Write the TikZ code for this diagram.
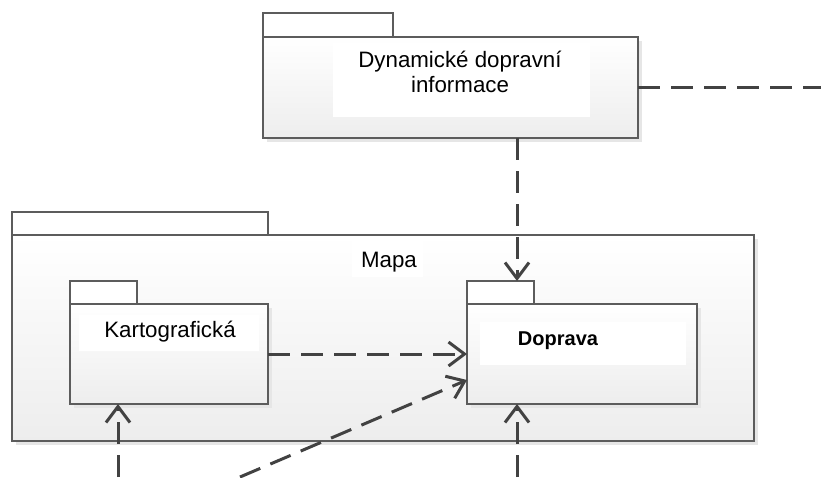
\documentclass[tikz,border=0pt]{standalone}
\usepackage{fontspec}
\setmainfont{Liberation Sans}
\usetikzlibrary{arrows.meta,calc}
\definecolor{linec}{HTML}{424242}
\definecolor{edgec}{HTML}{5C5C5C}
\definecolor{shadowc}{HTML}{E6E6E6}
\tikzset{
  pkgbody/.style={draw=edgec, line width=1.2pt, top color=white, bottom color=black!7,
    anchor=north west, inner sep=0pt, outer sep=0pt},
  pkgtab/.style={draw=edgec, line width=1.2pt, fill=white, anchor=north west,
    inner sep=0pt, outer sep=0pt},
  lblbg/.style={fill=white, draw=none},
  shadowbox/.style={fill=shadowc, draw=none},
  lbl/.style={font=\fontsize{22.3}{26}\selectfont, inner sep=0pt, anchor=base},
  boldlbl/.style={font=\fontsize{20}{24}\selectfont\bfseries, inner sep=0pt, anchor=base},
  depline/.style={draw=linec, line width=3pt, dash pattern=on 22pt off 11pt},
  dep/.style={depline, -{Straight Barb[length=16pt,width=24pt,line width=3pt]}},
}
\begin{document}
\begin{tikzpicture}[x=1pt,y=-1pt]
\useasboundingbox (0,0) rectangle (821,477);

% shadows
\fill[shadowbox] (267,41) rectangle (642,142);
\fill[shadowbox] (16,239) rectangle (758,445);

% Dynamické dopravní informace package
\node[pkgtab, minimum width=130pt, minimum height=24pt] (dyntab) at (263,13) {};
\node[pkgbody, minimum width=375pt, minimum height=101pt] (dynbody) at (263,37) {};
\fill[lblbg] (333,43) rectangle (590,117);
\node[lbl] (dyn1) at (460,67) {Dynamické dopravní};
\node[lbl] (dyn2) at (460,92) {informace};

% Mapa package
\node[pkgtab, minimum width=256pt, minimum height=23pt] (mapatab) at (12,212) {};
\node[pkgbody, minimum width=742pt, minimum height=206pt] (mapabody) at (12,235) {};
\fill[lblbg] (352,240) rectangle (423,277);
\node[lbl] (mapa) at (389,267) {Mapa};

% Kartografická package
\fill[shadowbox] (74,308) rectangle (272,408);
\node[pkgtab, minimum width=67pt, minimum height=23pt] (kartotab) at (70,281) {};
\node[pkgbody, minimum width=198pt, minimum height=100pt] (kartobody) at (70,304) {};
\fill[lblbg] (79,315) rectangle (259,351);
\node[lbl] (karto) at (170,337) {Kartografická};

% Doprava package
\fill[shadowbox] (471,308) rectangle (701,408);
\node[pkgtab, minimum width=67pt, minimum height=23pt] (doptab) at (467,281) {};
\node[pkgbody, minimum width=230pt, minimum height=100pt] (dopbody) at (467,304) {};
\fill[lblbg] (480,322) rectangle (686,365);
\node[boldlbl] (doprava) at (558,345) {Doprava};

% free ends
\coordinate (rightend) at (821,87);
\coordinate (botleft) at (118,477);
\coordinate (botmid) at (240,477);
\coordinate (botright) at (517,477);

% connectors
\draw[depline] (dynbody.east |- rightend) -- (rightend);
\draw[dep] (517,0 |- dynbody.south) -- (517,0 |- doptab.north);
\draw[dep] (kartobody.east |- 0,354) -- (dopbody.west |- 0,354);
\draw[dep] (botmid) -- (dopbody.west |- 0,380);
\draw[dep] (botleft) -- (botleft |- kartobody.south);
\draw[dep] (botright) -- (botright |- dopbody.south);
\end{tikzpicture}
\end{document}
